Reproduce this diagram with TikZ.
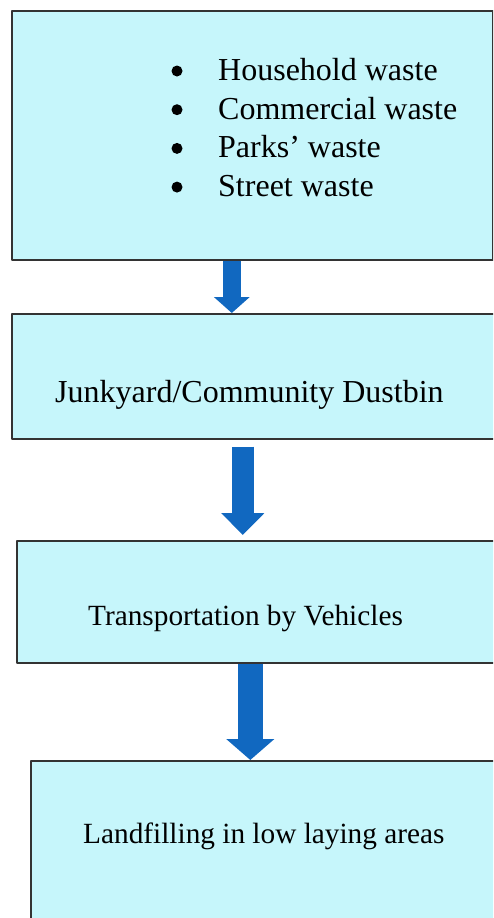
\documentclass[tikz,border=0pt]{standalone}
\usepackage{fontspec}
\setmainfont{Liberation Serif}
\usetikzlibrary{arrows.meta}
\definecolor{boxcyan}{RGB}{198,246,251}
\definecolor{flowblue}{RGB}{17,104,192}
\begin{document}
\begin{tikzpicture}[x=1pt,y=-1pt,line join=round]
            \tikzset{box style/.style={rectangle,draw=black!80,line width=1.6pt,fill=boxcyan,inner sep=0pt,anchor=north west},
                big text/.style={font=\fontsize{32}{38}\selectfont,anchor=base west,inner sep=0pt},
                small text/.style={font=\fontsize{29.3}{35}\selectfont,anchor=base west,inner sep=0pt},
                flow/.style={draw=flowblue,line width=#1}}
            \useasboundingbox (0,0) rectangle (493,918);
            \clip (0,0) rectangle (493,918);
            \node[box style,minimum width=481pt,minimum height=249pt] (sources) at (11,10) {};
            \node[box style,minimum width=510pt,minimum height=125pt] (dustbin) at (11,313) {};
            \node[box style,minimum width=510pt,minimum height=122pt] (transport) at (16,540) {};
            \node[box style,minimum width=500pt,minimum height=200pt] (landfill) at (30,760) {};
            \foreach \entry [count=\i] in {Household waste,Commercial waste,Parks’ waste,Street waste}{
                \node[big text] (item\i) at (218,{80.5+38.7*(\i-1)}) {\entry};
                \fill (177,{71+38.7*(\i-1)}) circle[radius=5.5pt];
            }
            \node[big text] (dustbintext) at (55,402) {Junkyard/Community Dustbin};
            \node[small text] (transporttext) at (88,625) {Transportation by Vehicles};
            \node[small text] (landfilltext) at (83,843) {Landfilling in low laying areas};
            %\draw[dashed] (sources.south) -- (dustbin.north);
            \draw[flow=18pt,-{Triangle[width=35pt,length=16pt]}] ([xshift=-20.5pt]sources.south) -- ([xshift=-35pt]dustbin.north);
            \draw[flow=22pt,-{Triangle[width=42pt,length=22pt]}] ([xshift=-24pt,yshift=-7pt]dustbin.south) -- ([xshift=-29pt,yshift=5pt]transport.north);
            \draw[flow=25pt,-{Triangle[width=47pt,length=21pt]}] ([xshift=-21.5pt]transport.south) -- ([xshift=-30.5pt]landfill.north);
    \end{tikzpicture}
\end{document}
